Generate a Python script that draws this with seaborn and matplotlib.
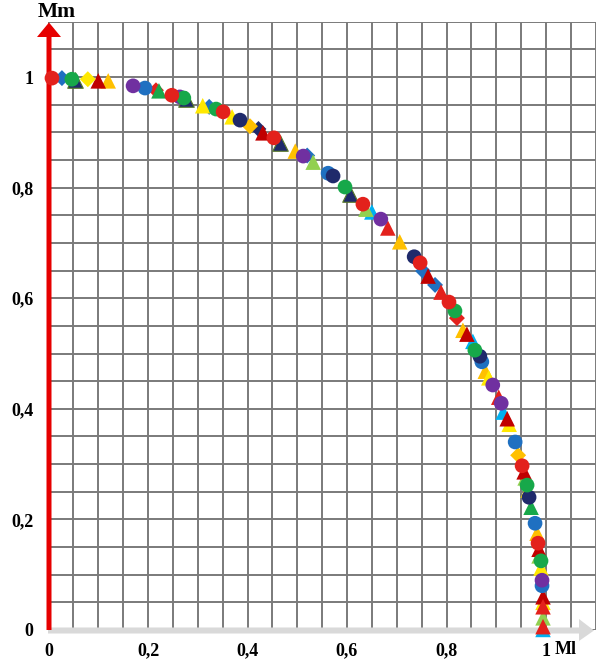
import numpy as np
import pandas as pd
import matplotlib
matplotlib.use("Agg")
import matplotlib.pyplot as plt
from matplotlib.patches import Polygon
import seaborn as sns

# ---------------- data ----------------
ml = [
    # red circles
    0.007, 0.248, 0.351, 0.453, 0.632, 0.747, 0.805, 0.952, 0.984,
    # navy circles
    0.385, 0.572, 0.735, 0.867, 0.966,
    # blue circles
    0.194, 0.562, 0.871, 0.938, 0.978, 0.992,
    # green circles
    0.047, 0.272, 0.337, 0.596, 0.817, 0.857, 0.962, 0.990,
    # purple circles
    0.170, 0.264, 0.512, 0.668, 0.893, 0.910, 0.992,
    # red triangles
    0.682, 0.789, 0.905, 0.994, 0.994,
    # dark red triangles
    0.100, 0.431, 0.763, 0.841, 0.922, 0.956, 0.986, 0.994,
    # gold triangles
    0.120, 0.496, 0.706, 0.833, 0.878, 0.982,
    # yellow triangles
    0.310, 0.369, 0.885, 0.926, 0.964, 0.990, 0.994,
    # green triangles
    0.222, 0.970,
    # light green triangles
    0.532, 0.638, 0.958, 0.986, 0.994,
    # navy triangles
    0.053, 0.276, 0.465, 0.606,
    # cyan triangles
    0.650, 0.853, 0.914, 0.994,
    # yellow diamonds
    0.079,
    # gold diamonds
    0.405, 0.944,
    # blue diamonds
    0.027, 0.323, 0.520, 0.753, 0.777,
    # red diamonds
    0.216, 0.821,
    # navy diamonds
    0.422,
]
mm = [
    0.998, 0.967, 0.937, 0.890, 0.770, 0.664, 0.593, 0.297, 0.157,
    0.922, 0.821, 0.675, 0.495, 0.240,
    0.980, 0.826, 0.485, 0.340, 0.193, 0.080,
    0.996, 0.962, 0.942, 0.801, 0.577, 0.506, 0.262, 0.125,
    0.984, 0.964, 0.857, 0.743, 0.443, 0.410, 0.090,
    0.727, 0.611, 0.421, 0.042, 0.006,
    0.993, 0.899, 0.640, 0.535, 0.382, 0.286, 0.146, 0.060,
    0.993, 0.866, 0.702, 0.542, 0.468, 0.175,
    0.948, 0.928, 0.456, 0.372, 0.253, 0.112, 0.050,
    0.975, 0.222,
    0.846, 0.761, 0.275, 0.134, 0.022,
    0.995, 0.960, 0.881, 0.788,
    0.756, 0.522, 0.394, 0.001,
    0.996,
    0.911, 0.316,
    0.998, 0.946, 0.858, 0.649, 0.624,
    0.976, 0.564,
    0.906,
]
series = (
    ["red_circle"] * 9 + ["navy_circle"] * 5 + ["blue_circle"] * 6 +
    ["green_circle"] * 8 + ["purple_circle"] * 7 + ["red_tri"] * 5 +
    ["darkred_tri"] * 8 + ["gold_tri"] * 6 + ["yellow_tri"] * 7 +
    ["green_tri"] * 2 + ["lgreen_tri"] * 5 + ["navy_tri"] * 4 +
    ["cyan_tri"] * 4 + ["yellow_dia"] * 1 + ["gold_dia"] * 2 +
    ["blue_dia"] * 5 + ["red_dia"] * 2 + ["navy_dia"] * 1
)

x_ticks = [0, 0.2, 0.4, 0.6, 0.8, 1.0]
x_tick_labels = ["0", "0,2", "0,4", "0,6", "0,8", "1"]
y_ticks = [0, 0.2, 0.4, 0.6, 0.8, 1.0]
y_tick_labels = ["0", "0,2", "0,4", "0,6", "0,8", "1"]

# ---------------- styles ----------------
RED = "#E3211C"; NAVY = "#1F2A6B"; BLUE = "#1F70C1"; GREEN = "#17A84A"
PURPLE = "#7030A0"; DRED = "#C00000"; GOLD = "#FFC000"; YELLOW = "#FFE800"
LGREEN = "#92D050"; CYAN = "#00B0F0"
styles = {
    "red_circle": (RED, "o"), "navy_circle": (NAVY, "o"), "blue_circle": (BLUE, "o"),
    "green_circle": (GREEN, "o"), "purple_circle": (PURPLE, "o"),
    "red_tri": (RED, "^"), "darkred_tri": (DRED, "^"), "gold_tri": (GOLD, "^"),
    "yellow_tri": (YELLOW, "^"), "green_tri": (GREEN, "^"), "lgreen_tri": (LGREEN, "^"),
    "navy_tri": (NAVY, "^"), "cyan_tri": (CYAN, "^"),
    "yellow_dia": (YELLOW, "D"), "gold_dia": (GOLD, "D"), "blue_dia": (BLUE, "D"),
    "red_dia": (RED, "D"), "navy_dia": (NAVY, "D"),
}
draw_order = ["navy_tri", "blue_dia", "navy_dia", "red_dia", "cyan_tri", "lgreen_tri",
              "gold_tri", "yellow_tri", "darkred_tri", "red_tri", "green_tri",
              "yellow_dia", "gold_dia", "blue_circle", "navy_circle", "purple_circle",
              "green_circle", "red_circle"]

plt.rcParams["font.family"] = ["Liberation Serif", "DejaVu Serif"]
plt.rcParams["font.weight"] = "bold"

W, H = 596, 661
fig = plt.figure(figsize=(W / 100, H / 100), dpi=100)
x0, y0 = 48.5, 630.0
pxu_x, pxu_y = 497.5, 553.0
ax = fig.add_axes([x0 / W, (H - y0) / H, 1.1 * pxu_x / W, 1.1 * pxu_y / H])

df = pd.DataFrame({"Ml": ml, "Mm": mm, "series": series})
for i, name in enumerate(draw_order):
    color, marker = styles[name]
    sub = df[df["series"] == name]
    size = {"o": 112, "^": 125, "D": 66}[marker]
    ec = "#5A7A2A" if name == "navy_tri" else "none"
    lw = 0.8 if name == "navy_tri" else 0
    sns.scatterplot(data=sub, x="Ml", y="Mm", ax=ax, color=color, marker=marker,
                    s=size, edgecolor=ec, linewidth=lw, zorder=5 + i * 0.01,
                    clip_on=False, legend=False)

ax.set_xlim(0, 1.1)
ax.set_ylim(0, 1.1)
grid = np.round(np.arange(0, 1.1001, 0.05), 2)
ax.set_xticks(grid)
ax.set_yticks(grid)
xl = [x_tick_labels[x_ticks.index(g)] if g in x_ticks else "" for g in grid]
yl = [y_tick_labels[y_ticks.index(g)] if g in y_ticks else "" for g in grid]
ax.set_xticklabels(xl, fontsize=13, fontweight="bold")
ax.set_yticklabels(yl, fontsize=13, fontweight="bold")
ax.tick_params(axis="x", length=0, pad=9)
ax.tick_params(axis="y", length=0, pad=11)
ax.set_axisbelow(True)
ax.grid(True, color="#7A7A7A", linewidth=1.4)
for s in ax.spines.values():
    s.set_visible(False)
ax.set_xlabel("")
ax.set_ylabel("")

def P(x, y):
    return (x / W, 1 - y / H)

# gray x axis arrow
gray_pts = [P(48, 627.5), P(579, 627.5), P(579, 619), P(594, 630.5),
            P(579, 641), P(579, 633.5), P(48, 633.5)]
ax.add_patch(Polygon(gray_pts, closed=True, transform=fig.transFigure,
                     facecolor="#D9D9D9", edgecolor="none", clip_on=False, zorder=3))
# red y axis arrow
red_pts = [P(46.5, 630), P(46.5, 37), P(37, 37), P(49, 22.5), P(61, 37),
           P(51.5, 37), P(51.5, 630)]
ax.add_patch(Polygon(red_pts, closed=True, transform=fig.transFigure,
                     facecolor="#E60000", edgecolor="none", clip_on=False, zorder=3))

fig.text(57 / W, 1 - 12 / H, "Mm", ha="center", va="center", fontsize=15.5,
         fontweight="bold", color="black")
fig.text(555 / W, 1 - 649 / H, "Ml", ha="left", va="center", fontsize=13,
         fontweight="bold", color="black")

fig.savefig("out.png", dpi=100)
